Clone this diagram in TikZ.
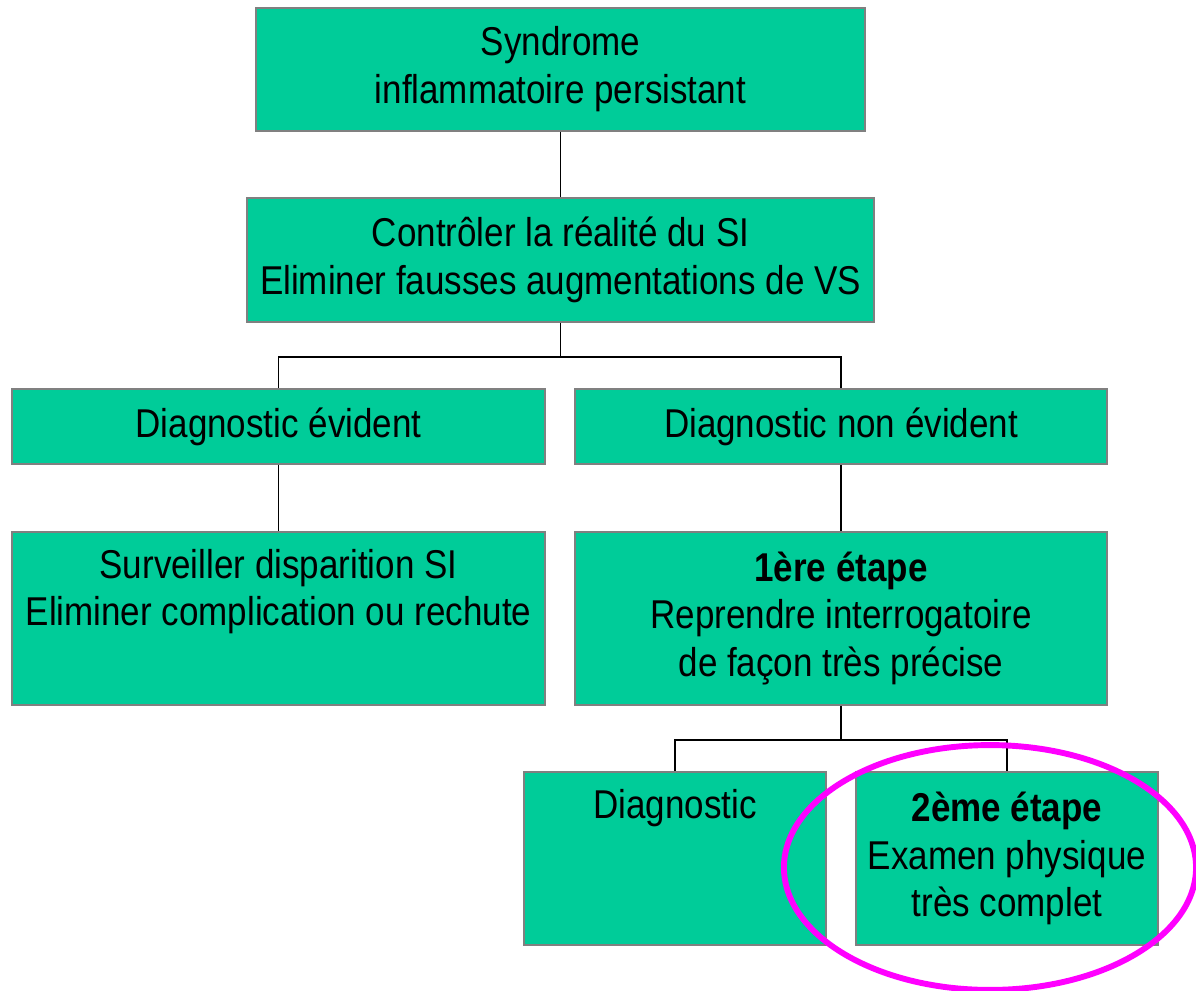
\documentclass[tikz,border=0pt]{standalone}
\usepackage{fontspec}
\setmainfont{Liberation Sans}[FakeStretch=0.87]
\usepackage{tikz}
\definecolor{boxgreen}{RGB}{0,204,153}
\definecolor{boxgray}{RGB}{128,128,128}
\definecolor{ringpink}{RGB}{255,0,255}
\tikzset{
	box/.style 2 args={draw=boxgray,line width=1.2pt,fill=boxgreen,minimum width=#1,minimum height=#2,inner sep=0pt,align=center,font=\fontsize{28.6}{34}\selectfont},
	link/.style={draw=black,line width=1.3pt},
	ring/.style={draw=ringpink,line width=4.2pt}
}

\begin{document}
\begin{tikzpicture}[x=0.025cm,y=-0.025cm]
\useasboundingbox (0,0) rectangle (1196,991);
\node (syn) [box={15.225cm}{3.075cm}] at (560.5,69.5) {Syndrome\\inflammatoire persistant};
\node (ctrl) [box={15.675cm}{3.1cm}] at (560.5,260) {Contrôler la réalité du SI\\Eliminer fausses augmentations de VS};
\node (evid) [box={13.325cm}{1.875cm}] at (278.5,426.5) {Diagnostic évident};
\node (nonev) [box={13.3cm}{1.875cm}] at (841,426.5) {Diagnostic non évident};
\node (surv) [box={13.325cm}{4.325cm}] at (278.5,618.5) {Surveiller disparition SI\\Eliminer complication ou rechute\\\strut};
\node (etape1) [box={13.3cm}{4.325cm}] at (841,618.5) {\textbf{1ère étape}\\Reprendre interrogatoire\\de façon très précise};
\node (diag) [box={7.55cm}{4.325cm}] at (675,858.5) {Diagnostic\\\strut\\\strut};
\node (etape2) [box={7.55cm}{4.325cm}] at (1007,858.5) {\textbf{2ème étape}\\Examen physique\\très complet};
\path[link]
	(syn) -- (ctrl)
	(ctrl.south) -- ++(0,34) -| (evid.north)
	(ctrl.south) ++(0,34) -| (nonev.north)
	(evid) -- (surv)
	(nonev) -- (etape1)
	(etape1.south) -- ++(0,34) -| (diag.north)
	(etape1.south) ++(0,34) -| (etape2.north)
;
\draw[ring] (990,867.5) ellipse [x radius=5.15cm,y radius=3.06cm];
\end{tikzpicture}
\end{document}
